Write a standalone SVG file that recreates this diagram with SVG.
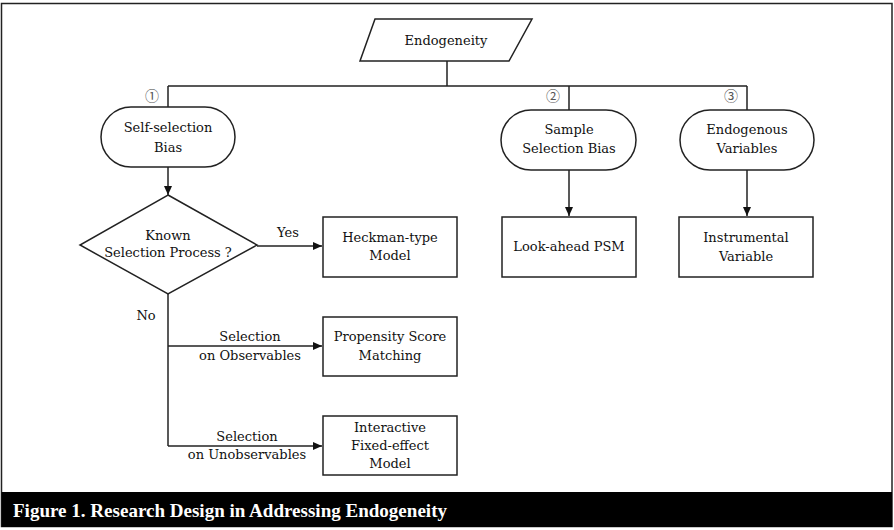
<svg xmlns="http://www.w3.org/2000/svg" width="894" height="530" viewBox="0 0 894 530">
<defs>
<marker id="arr" markerWidth="10" markerHeight="10" refX="9" refY="5" orient="auto" markerUnits="userSpaceOnUse">
<path d="M0,1 L9,5 L0,9 Z" fill="#111"/>
</marker>
<style>
.shape{fill:#fff;stroke:#222;stroke-width:1.5}
.line{fill:none;stroke:#222;stroke-width:1.5}
text{font-family:"DejaVu Serif","Liberation Serif",serif;font-size:13px;fill:#111;text-anchor:middle}
.num{font-family:"Noto Sans CJK JP","DejaVu Sans",sans-serif;font-size:14px;fill:#555}
.cap{font-family:"Liberation Serif","Times New Roman",serif;font-weight:bold;font-size:19px;fill:#fff;text-anchor:start}
</style>
</defs>
<rect x="1.5" y="3.5" width="890.5" height="523" fill="#fff" stroke="#222" stroke-width="1.5"/>
<rect x="1.5" y="492" width="890.5" height="35" fill="#000"/>
<text class="cap" x="13" y="517" textLength="434" lengthAdjust="spacingAndGlyphs">Figure 1. Research Design in Addressing Endogeneity</text>

<g id="connectors">
<path class="line" d="M447,61 V86 M168,86 H747 M168,86 V107 M569,86 V110 M747,86 V110"/>
<path class="line" d="M168,167 V195" marker-end="url(#arr)"/>
<path class="line" d="M569,170 V216" marker-end="url(#arr)"/>
<path class="line" d="M747,170 V216" marker-end="url(#arr)"/>
<path class="line" d="M257,246 H322" marker-end="url(#arr)"/>
<path class="line" d="M168,294 V446"/>
<path class="line" d="M168,346 H322" marker-end="url(#arr)"/>
<path class="line" d="M168,446 H322" marker-end="url(#arr)"/>
<text x="288" y="237">Yes</text>
<text x="146" y="320">No</text>
<text x="250" y="341">Selection</text>
<text x="250" y="360">on Observables</text>
<text x="247" y="441">Selection</text>
<text x="247" y="459">on Unobservables</text>
<text class="num" x="152" y="101">①</text>
<text class="num" x="553" y="101">②</text>
<text class="num" x="731" y="101">③</text>
</g>

<g id="endogeneity">
<polygon class="shape" points="375,19 532,19 509,61 360,61"/>
<text x="446" y="45">Endogeneity</text>
</g>
<g id="self-selection">
<rect class="shape" x="101" y="107" width="134" height="60" rx="30" ry="30"/>
<text x="168" y="132">Self-selection</text>
<text x="168" y="152">Bias</text>
</g>
<g id="sample-selection">
<rect class="shape" x="501" y="110" width="135" height="60" rx="30" ry="30"/>
<text x="569" y="134">Sample</text>
<text x="569" y="153">Selection Bias</text>
</g>
<g id="endogenous-variables">
<rect class="shape" x="680" y="110" width="134" height="60" rx="30" ry="30"/>
<text x="747" y="134">Endogenous</text>
<text x="747" y="153">Variables</text>
</g>
<g id="known-selection">
<polygon class="shape" points="168,195 257,245 168,294 80,245"/>
<text x="168" y="240">Known</text>
<text x="168" y="257">Selection Process ?</text>
</g>
<g id="heckman">
<rect class="shape" x="323" y="217" width="134" height="60"/>
<text x="390" y="242">Heckman-type</text>
<text x="390" y="260">Model</text>
</g>
<g id="psm">
<rect class="shape" x="323" y="317" width="134" height="59"/>
<text x="390" y="341">Propensity Score</text>
<text x="390" y="360">Matching</text>
</g>
<g id="ife">
<rect class="shape" x="323" y="416" width="134" height="59"/>
<text x="390" y="432">Interactive</text>
<text x="390" y="450">Fixed-effect</text>
<text x="390" y="468">Model</text>
</g>
<g id="look-ahead">
<rect class="shape" x="502" y="217" width="134" height="60"/>
<text x="569" y="251">Look-ahead PSM</text>
</g>
<g id="instrumental">
<rect class="shape" x="679" y="217" width="134" height="60"/>
<text x="746" y="242">Instrumental</text>
<text x="746" y="261">Variable</text>
</g>
</svg>
